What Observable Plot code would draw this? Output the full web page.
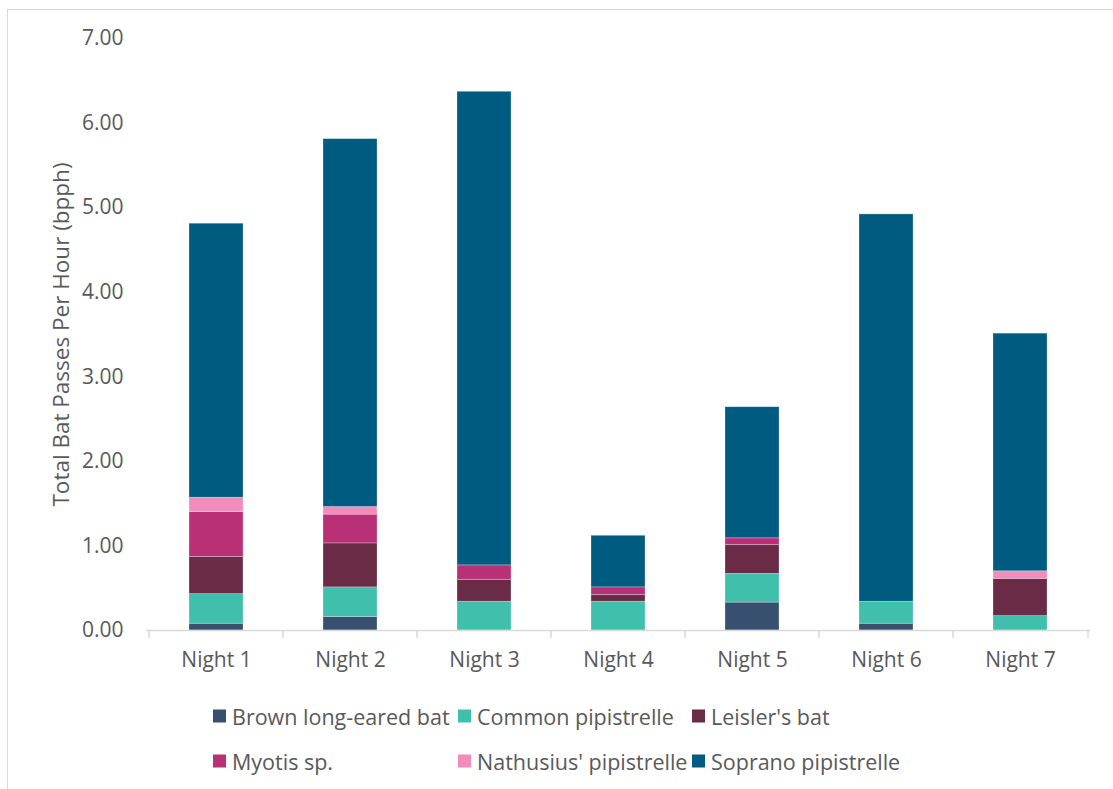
<!DOCTYPE html>
<html>
<head>
<meta charset="utf-8">
<script src="https://cdn.jsdelivr.net/npm/d3@7"></script>
<script src="https://cdn.jsdelivr.net/npm/@observablehq/plot@0.6"></script>
<style>
  html, body { margin: 0; padding: 0; background: #fff; }
  #wrap { position: relative; width: 1113px; height: 789px; overflow: hidden; font-family: "Open Sans", sans-serif; color: #595959; }
  #frame { position: absolute; left: 7px; top: 9px; width: 1200px; height: 900px; border-left: 1.5px solid #d9d9d9; border-top: 1.5px solid #d9d9d9; }
  #chart { position: absolute; left: 0; top: 0; }
  .lg { position: absolute; display: flex; align-items: center; font-size: 21.5px; white-space: nowrap; transform: translateY(-50%); }
  .sw { width: 13px; height: 13px; margin-right: 6px; flex: none; }
</style>
</head>
<body>
<div id="wrap">
  <div id="frame"></div>
  <div id="chart"></div>
  <div id="legend"></div>
</div>
<script>
const nights = ["Night 1", "Night 2", "Night 3", "Night 4", "Night 5", "Night 6", "Night 7"];
const species = ["Brown long-eared bat", "Common pipistrelle", "Leisler's bat", "Myotis sp.", "Nathusius' pipistrelle", "Soprano pipistrelle"];
const colors = ["#37506f", "#40bfad", "#692b45", "#b93076", "#f38cba", "#005b80"];
const brownLongEared = [0.08, 0.16, 0.00, 0.00, 0.33, 0.08, 0.00];
const commonPipistrelle = [0.35, 0.35, 0.34, 0.34, 0.34, 0.26, 0.17];
const leislersBat = [0.44, 0.52, 0.26, 0.08, 0.34, 0.00, 0.44];
const myotisSp = [0.53, 0.34, 0.17, 0.09, 0.08, 0.00, 0.00];
const nathusiusPipistrelle = [0.17, 0.09, 0.00, 0.00, 0.00, 0.00, 0.09];
const sopranoPipistrelle = [3.24, 4.35, 5.60, 0.61, 1.55, 4.58, 2.81];
const yTicks = [0, 1, 2, 3, 4, 5, 6, 7];
const yTitle = "Total Bat Passes Per Hour (bpph)";

const series = [brownLongEared, commonPipistrelle, leislersBat, myotisSp, nathusiusPipistrelle, sopranoPipistrelle];
const rows = [];
species.forEach((s, i) => nights.forEach((n, j) => rows.push({night: n, species: s, value: series[i][j]})));

const textColor = "#595959";
const axisColor = "#d9d9d9";

const chart = Plot.plot({
  width: 1113,
  height: 680,
  marginLeft: 146,
  marginRight: 22.5,
  marginTop: 38,
  marginBottom: 50,
  style: {fontFamily: "Open Sans, sans-serif", fontSize: "21px", color: textColor, background: "transparent"},
  x: {domain: nights, paddingInner: 0.6, paddingOuter: 0.3, label: null},
  y: {domain: [0, 7], label: null},
  color: {domain: species, range: colors},
  marks: [
    Plot.barY(rows, Plot.stackY({order: species}, {x: "night", y: "value", fill: "species", stroke: "white", strokeOpacity: 0.35, strokeWidth: 0.75})),
    Plot.ruleY([0], {stroke: axisColor, strokeWidth: 1.5}),
    Plot.ruleX(nights, {x: d => d, dx: -67.5, y1: 0, y2: -0.095, stroke: axisColor, strokeWidth: 1.5}),
    Plot.ruleX(nights.slice(-1), {x: d => d, dx: 67.5, y1: 0, y2: -0.095, stroke: axisColor, strokeWidth: 1.5}),
    Plot.axisY({ticks: yTicks, tickFormat: d3.format(".2f"), tickSize: 0, tickPadding: 23, label: null, fill: textColor, fontSize: 21}),
    Plot.axisX({tickSize: 0, tickPadding: 22, label: null, fill: textColor, fontSize: 21}),
    Plot.text([yTitle], {frameAnchor: "left", rotate: -90, dx: -85, text: d => d, fill: textColor, fontSize: 22.5, textAnchor: "middle", lineAnchor: "middle"})
  ]
});
document.getElementById("chart").appendChild(chart);

const legend = document.getElementById("legend");
const legendCols = [213, 458, 692];
species.forEach((s, i) => {
  const col = i % 3, row = Math.floor(i / 3);
  const el = document.createElement("div");
  el.className = "lg";
  el.style.left = legendCols[col] + "px";
  el.style.top = (716 + row * 45) + "px";
  el.innerHTML = `<span class="sw" style="background:${colors[i]}"></span><span>${s}</span>`;
  legend.appendChild(el);
});
</script>
</body>
</html>
